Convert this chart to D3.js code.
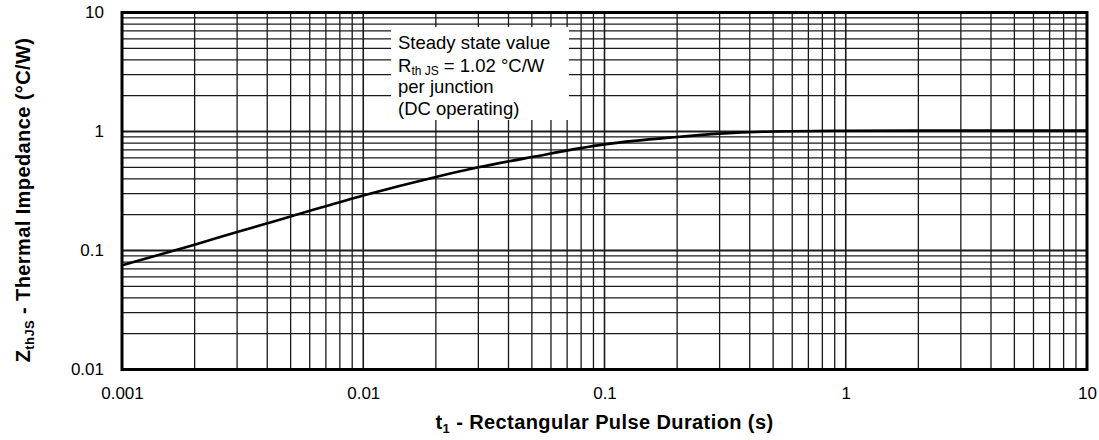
<!DOCTYPE html>
<html>
<head>
<meta charset="utf-8">
<script src="https://cdn.jsdelivr.net/npm/d3@7"></script>
<style>
  body { margin: 0; background: #fff; }
  svg text { font-family: "Liberation Sans", Arial, sans-serif; fill: #000; }
</style>
</head>
<body>
<div id="chart"></div>
<script>
// Pulse duration (s) and thermal impedance (°C/W)
var pulseTimes = [0.001, 0.002, 0.003, 0.005, 0.01, 0.02, 0.03, 0.05, 0.1, 0.2, 0.3, 0.5, 1, 2, 5, 10];
var impedance  = [0.075, 0.112, 0.143, 0.193, 0.29, 0.415, 0.50, 0.61, 0.78, 0.90, 0.96, 1.0, 1.015, 1.02, 1.02, 1.02];

// Axis tick labels
var xTicks = [0.001, 0.01, 0.1, 1, 10];
var yTicks = [0.01, 0.1, 1, 10];
var xTickLabels = ["0.001", "0.01", "0.1", "1", "10"];
var yTickLabels = ["0.01", "0.1", "1", "10"];

document.addEventListener('DOMContentLoaded', function() {
  // Set the dimensions and margins of the graph
  var margin = {top: 12.5, right: 12, bottom: 70.5, left: 122},
      width = 1099 - margin.left - margin.right,
      height = 440 - margin.top - margin.bottom;

  var svg = d3.select("#chart")
    .append("svg")
      .attr("width", 1099)
      .attr("height", 440)
    .append("g")
      .attr("transform", "translate(" + margin.left + "," + margin.top + ")");

  var x = d3.scaleLog().domain([0.001, 10]).range([0, width]);
  var y = d3.scaleLog().domain([0.01, 10]).range([height, 0]);

  // Minor grid values: 1..9 in every decade
  function gridValues(lo, hi) {
    var vals = [];
    for (var e = Math.log10(lo); e < Math.log10(hi); e++) {
      for (var m = 1; m < 10; m++) vals.push(m * Math.pow(10, e));
    }
    vals.push(hi);
    return vals;
  }
  function isDecade(v) { return Math.abs(Math.log10(v) - Math.round(Math.log10(v))) < 1e-9; }

  // Vertical grid
  svg.append("g").selectAll("line")
    .data(gridValues(0.001, 10))
    .enter().append("line")
      .attr("x1", function(d) { return x(d); })
      .attr("x2", function(d) { return x(d); })
      .attr("y1", 0)
      .attr("y2", height)
      .attr("stroke", "#1a1a1a")
      .attr("stroke-width", function(d) { return isDecade(d) ? 1.6 : 1.3; });

  // Horizontal grid
  svg.append("g").selectAll("line")
    .data(gridValues(0.01, 10))
    .enter().append("line")
      .attr("x1", 0)
      .attr("x2", width)
      .attr("y1", function(d) { return y(d); })
      .attr("y2", function(d) { return y(d); })
      .attr("stroke", "#1a1a1a")
      .attr("stroke-width", function(d) { return isDecade(d) ? 2 : 1.3; });

  // Annotation box covers the grid
  var box = svg.append("g").attr("transform", "translate(" + (391 - margin.left) + "," + (27 - margin.top) + ")");
  box.append("rect")
    .attr("width", 178)
    .attr("height", 93)
    .attr("fill", "#fff");
  var note = box.append("text")
    .attr("font-size", "18.5px");
  note.append("tspan").attr("x", 7).attr("y", 22).text("Steady state value");
  note.append("tspan").attr("x", 7).attr("y", 44.5).text("R");
  note.append("tspan").attr("font-size", "12px").attr("dy", 3).text("th JS");
  note.append("tspan").attr("dy", -3).text(" = 1.02 °C/W");
  note.append("tspan").attr("x", 7).attr("y", 66).text("per junction");
  note.append("tspan").attr("x", 7).attr("y", 88).text("(DC operating)");

  // The curve
  var line = d3.line()
    .x(function(d) { return x(d[0]); })
    .y(function(d) { return y(d[1]); })
    .curve(d3.curveMonotoneX);
  svg.append("path")
    .datum(d3.zip(pulseTimes, impedance))
    .attr("fill", "none")
    .attr("stroke", "#000")
    .attr("stroke-width", 2.6)
    .attr("d", line);

  // Frame
  svg.append("rect")
    .attr("width", width)
    .attr("height", height)
    .attr("fill", "none")
    .attr("stroke", "#000")
    .attr("stroke-width", 3);

  // Axes (labels only)
  var xAxis = d3.axisBottom(x)
    .tickValues(xTicks)
    .tickSize(0)
    .tickPadding(17)
    .tickFormat(function(d, i) { return xTickLabels[i]; });
  var yAxis = d3.axisLeft(y)
    .tickValues(yTicks)
    .tickSize(0)
    .tickPadding(18)
    .tickFormat(function(d, i) { return yTickLabels[i]; });

  var gx = svg.append("g").attr("transform", "translate(0," + height + ")").call(xAxis);
  var gy = svg.append("g").call(yAxis);
  [gx, gy].forEach(function(g) {
    g.select(".domain").remove();
    g.selectAll("text").attr("font-size", "17px").attr("font-family", "Liberation Sans, Arial, sans-serif").attr("fill", "#000");
  });

  // Axis titles
  var xt = svg.append("text")
    .attr("x", width / 2)
    .attr("y", height + 59)
    .attr("text-anchor", "middle")
    .attr("font-size", "20px")
    .attr("letter-spacing", "0.4px")
    .attr("font-weight", "bold");
  xt.append("tspan").text("t");
  xt.append("tspan").attr("font-size", "13px").attr("dy", 4).text("1");
  xt.append("tspan").attr("dy", -4).text(" - Rectangular Pulse Duration (s)");

  var yt = svg.append("text")
    .attr("transform", "translate(" + (30 - margin.left) + "," + (200 - margin.top) + ") rotate(-90)")
    .attr("text-anchor", "middle")
    .attr("font-size", "20px")
    .attr("letter-spacing", "0.4px")
    .attr("font-weight", "bold");
  yt.append("tspan").text("Z");
  yt.append("tspan").attr("font-size", "13px").attr("dy", 4).text("thJS");
  yt.append("tspan").attr("dy", -4).text(" - Thermal Impedance (°C/W)");
});
</script>
</body>
</html>
